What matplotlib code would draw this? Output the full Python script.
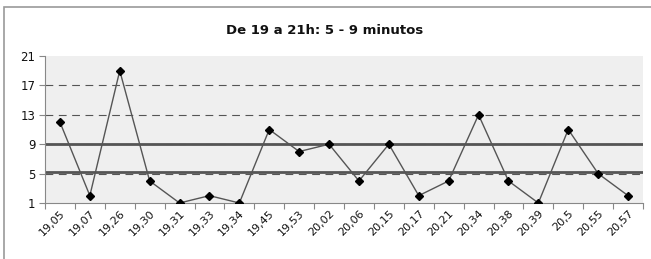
import matplotlib.pyplot as plt
import numpy as np

# horario de chegada e tempo de espera (minutos)
horas = ["19,05", "19,07", "19,26", "19,30", "19,31", "19,33", "19,34", "19,45",
         "19,53", "20,02", "20,06", "20,15", "20,17", "20,21", "20,34", "20,38",
         "20,39", "20,5", "20,55", "20,57"]
minutos = [12, 2, 19, 4, 1, 2, 1, 11, 8, 9, 4, 9, 2, 4, 13, 4, 1, 11, 5, 2]
limite_inf = 5
limite_sup = 9
y_ticks = [1, 5, 9, 13, 17, 21]

fig = plt.figure(figsize=(6.51, 2.59), dpi=100)
ax = fig.add_axes([45 / 651, 1 - 203 / 259, 598 / 651, 147 / 259])

# moldura do grafico (cortada a direita e em baixo)
fig.patches.append(plt.Rectangle((4 / 651, -0.1), 1.2, 1 - 7 / 259 + 0.1,
                                 transform=fig.transFigure, fill=False,
                                 edgecolor="#9a9a9a", linewidth=1.2))

x = np.arange(len(horas))
ax.set_facecolor("#efefef")
ax.set_xlim(-0.5, len(horas) - 0.5)
ax.set_ylim(1, 21)

for t in y_ticks[1:-1]:
    ax.axhline(t, color="#555555", linestyle=(0, (7, 5)), linewidth=0.8, zorder=1)
ax.axhline(limite_sup, color="#555555", linewidth=2, zorder=2)
ax.axhline(limite_inf + 0.15, color="#555555", linewidth=2, zorder=2)

ax.plot(x, minutos, color="#555555", linewidth=1, marker="D", markersize=4,
        markerfacecolor="black", markeredgecolor="black", zorder=3)

ax.set_yticks(y_ticks)
ax.set_yticklabels([str(t) for t in y_ticks], fontsize=8.5, color="#111111")
ax.set_xticks(np.arange(-0.5, len(horas), 1), minor=False)
ax.set_xticklabels([])
ax.set_xticks(x, minor=True)
ax.set_xticklabels(horas, minor=True, rotation=45, ha="right",
                   rotation_mode="anchor", fontsize=8, color="#111111")
ax.tick_params(axis="x", which="minor", length=0, pad=4)
ax.tick_params(axis="x", which="major", length=4, color="#888888")
ax.tick_params(axis="y", length=4, color="#888888", pad=3)

for s in ["top", "right"]:
    ax.spines[s].set_visible(False)
ax.spines["left"].set_color("#888888")
ax.spines["bottom"].set_color("#888888")

fig.text(325 / 651, 1 - 30 / 259, "De 19 a 21h: 5 - 9 minutos", ha="center",
         va="center", fontsize=9.5, fontweight="bold", color="#111111")

fig.savefig("out.png", dpi=100)
